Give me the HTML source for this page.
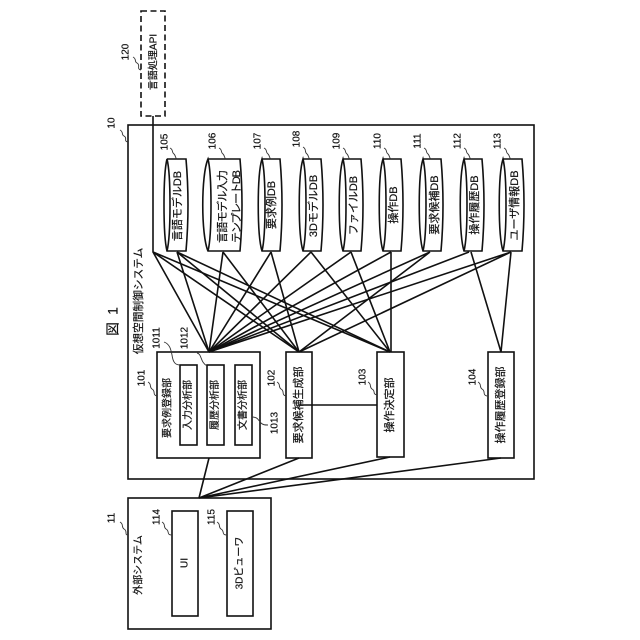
<!DOCTYPE html>
<html><head><meta charset="utf-8"><style>
html,body{margin:0;padding:0;background:#fff}
svg{display:block}
text{font-family:"Liberation Sans","Noto Sans CJK JP",sans-serif;fill:#111;stroke:#111;stroke-width:.2;text-anchor:middle;dominant-baseline:central}
.n{font-size:10px}.t{font-size:10px}.d{font-size:11px}
</style></head><body>
<svg width="640" height="640" viewBox="0 0 640 640" xmlns="http://www.w3.org/2000/svg">
<g fill="none" stroke="#111" stroke-width="1.6">
<rect x="128" y="125" width="406" height="354"/>
<rect x="128" y="498" width="143" height="131"/>
<rect x="141" y="11" width="24" height="105" stroke-dasharray="6 3.5"/>
<rect x="157" y="352" width="103" height="106"/>
<rect x="180" y="365" width="17" height="80"/>
<rect x="207" y="365" width="17" height="80"/>
<rect x="235" y="365" width="17" height="80"/>
<rect x="286" y="352" width="26" height="106"/>
<rect x="377" y="352" width="27" height="105"/>
<rect x="488" y="352" width="26" height="106"/>
<rect x="172" y="511" width="26" height="105"/>
<rect x="227" y="511" width="26" height="105"/>
<!-- cylinders -->
<path d="M167 159H186Q190 205 186 251H167C163 235 163 175 167 159C171 175 171 235 167 251"/>
<path d="M208 159H240Q244 205 240 251H208C201 235 201 175 208 159C212 175 212 235 208 251"/>
<path d="M262 159H280Q284 205 280 251H262C257 235 257 175 262 159C266 175 266 235 262 251"/>
<path d="M303 159H321Q325 205 321 251H303C298 235 298 175 303 159C307 175 307 235 303 251"/>
<path d="M343 159H361Q365 205 361 251H343C338 235 338 175 343 159C347 175 347 235 343 251"/>
<path d="M383 159H401Q405 205 401 251H383C378 235 378 175 383 159C387 175 387 235 383 251"/>
<path d="M423 159H441Q445 205 441 251H423C418 235 418 175 423 159C427 175 427 235 423 251"/>
<path d="M464 159H482Q486 205 482 251H464C459 235 459 175 464 159C468 175 468 235 464 251"/>
<path d="M503 159H522Q526 205 522 251H503C498 235 498 175 503 159C507 175 507 235 503 251"/>
<!-- connectors -->
<path d="M153 116V252L209 352M153 252L299 352M153 252L390 352"/>
<path d="M177 252L209 352M177 252L299 352M177 252L390 352"/>
<path d="M223 252L209 352M223 252L299 352"/>
<path d="M271 252L209 352M271 252L299 352"/>
<path d="M311 252L209 352M311 252L390 352"/>
<path d="M351 252L209 352M351 252L390 352"/>
<path d="M391 252L209 352M391 252V352"/>
<path d="M430 252L209 352M430 252L299 352"/>
<path d="M469 252L209 352M471 252L501 352"/>
<path d="M511 252L209 352M511 252L299 352M511 252L501 352"/>
<path d="M299 405H377"/>
<path d="M209 458L199 498M299 458L199 498M390 457L199 498M501 458L199 498"/>
</g>
<!-- leaders -->
<g fill="none" stroke="#333" stroke-width="0.9">
<path d="M133 57C137 59 134 62 137 63C141 65 136 69 141 70"/>
<path d="M120 130C124 132 121 135 124 136C128 138 123 141 128 142"/>
<path d="M170 148C174 150 171 152 174 154C176 156 175 158 177 159"/>
<path d="M219 148C223 150 220 152 223 154C225 156 224 158 226 159"/>
<path d="M264 148C268 150 265 152 268 154C270 156 269 158 271 159"/>
<path d="M303 147C307 149 304 152 307 154C309 156 308 158 310 159"/>
<path d="M343 148C347 150 344 152 347 154C349 156 348 158 350 159"/>
<path d="M384 148C388 150 385 152 388 154C390 156 389 158 391 159"/>
<path d="M424 148C428 150 425 152 428 154C430 156 429 158 431 159"/>
<path d="M464 148C468 150 465 152 468 154C470 156 469 158 471 159"/>
<path d="M504 148C508 150 505 152 508 154C510 156 509 158 511 159"/>
<path d="M148 382C152 384 149 387 152 389C156 391 152 395 157 396"/>
<path d="M277 382C281 384 278 387 281 389C285 391 281 395 286 396"/>
<path d="M368 382C372 384 369 387 372 389C376 391 372 394 377 395"/>
<path d="M478 382C482 384 479 387 482 389C486 391 482 395 487 396"/>
<path d="M164 342C170 344 171 350 172 355C173 362 175 365 180 365"/>
<path d="M197 353C202 354 200 362 207 366"/>
<path d="M252 417C258 417 258 420 261 423C263 425 265 425 268 425"/>
<path d="M120 522C124 524 121 527 124 529C128 531 124 535 128 535"/>
<path d="M162 522C166 524 163 527 166 529C170 531 166 535 172 535"/>
<path d="M217 522C221 524 218 527 221 529C225 531 221 535 227 535"/>
</g>
<!-- labels -->
<text transform="translate(113,329) rotate(-90)" font-size="13.500">図</text>
<text transform="translate(113,311) rotate(-90)" font-size="13.500">1</text>
<text class="n" transform="translate(126,52) rotate(-90)">120</text>
<text class="n" transform="translate(112,123) rotate(-90)">10</text>
<text class="n" transform="translate(165,142) rotate(-90)">105</text>
<text class="n" transform="translate(213,141) rotate(-90)">106</text>
<text class="n" transform="translate(258,141) rotate(-90)">107</text>
<text class="n" transform="translate(297,139) rotate(-90)">108</text>
<text class="n" transform="translate(337,141) rotate(-90)">109</text>
<text class="n" transform="translate(378,141) rotate(-90)">110</text>
<text class="n" transform="translate(418,141) rotate(-90)">111</text>
<text class="n" transform="translate(458,141) rotate(-90)">112</text>
<text class="n" transform="translate(498,141) rotate(-90)">113</text>
<text class="n" transform="translate(142,378) rotate(-90)">101</text>
<text class="n" transform="translate(272,378) rotate(-90)">102</text>
<text class="n" transform="translate(363,377) rotate(-90)">103</text>
<text class="n" transform="translate(473,377) rotate(-90)">104</text>
<text class="n" transform="translate(157,338) rotate(-90)">1011</text>
<text class="n" transform="translate(185,338) rotate(-90)">1012</text>
<text class="n" transform="translate(275,423) rotate(-90)">1013</text>
<text class="n" transform="translate(112,518) rotate(-90)">11</text>
<text class="n" transform="translate(157,517) rotate(-90)">114</text>
<text class="n" transform="translate(212,517) rotate(-90)">115</text>
<text class="t" transform="translate(154,62) rotate(-90)">言語処理API</text>
<text class="d" transform="translate(178,206) rotate(-90)">言語モデルDB</text>
<text class="d" transform="translate(223,206.500) rotate(-90)" textLength="73">言語モデル入力</text>
<text class="d" transform="translate(237,206.500) rotate(-90)" textLength="73">テンプレートDB</text>
<text class="d" transform="translate(272,205) rotate(-90)">要求例DB</text>
<text class="d" transform="translate(314,206) rotate(-90)">3DモデルDB</text>
<text class="d" transform="translate(354,205.500) rotate(-90)">ファイルDB</text>
<text class="d" transform="translate(394,205) rotate(-90)">操作DB</text>
<text class="d" transform="translate(435,205) rotate(-90)">要求候補DB</text>
<text class="d" transform="translate(475,205) rotate(-90)">操作履歴DB</text>
<text class="d" transform="translate(515,205.500) rotate(-90)">ユーザ情報DB</text>
<text class="t" transform="translate(139,301) rotate(-90)" style="font-size:10.7px">仮想空間制御システム</text>
<text class="t" transform="translate(168,408) rotate(-90)">要求例登録部</text>
<text class="t" transform="translate(188.500,405) rotate(-90)">入力分析部</text>
<text class="t" transform="translate(215.500,405) rotate(-90)">履歴分析部</text>
<text class="t" transform="translate(243.500,405) rotate(-90)">文書分析部</text>
<text class="d" transform="translate(299,405) rotate(-90)">要求候補生成部</text>
<text class="d" transform="translate(390,405) rotate(-90)">操作決定部</text>
<text class="d" transform="translate(501,405) rotate(-90)">操作履歴登録部</text>
<text class="t" transform="translate(139,565) rotate(-90)">外部システム</text>
<text class="t" transform="translate(185,563) rotate(-90)">UI</text>
<text class="t" transform="translate(240,563) rotate(-90)">3Dビューワ</text>
</svg>
</body></html>
